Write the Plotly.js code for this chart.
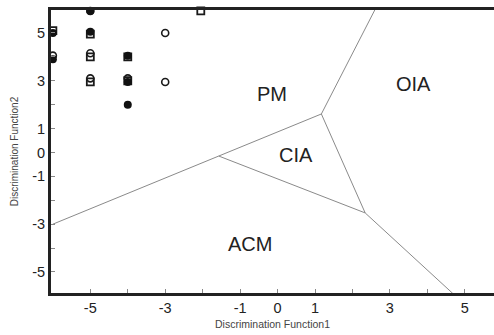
<!DOCTYPE html>
<html>
<head>
<meta charset="utf-8">
<script src="https://cdn.plot.ly/plotly-3.0.1.min.js"></script>
<style>html,body{margin:0;padding:0;background:#fff;overflow:hidden;}#chart{width:494px;height:335px;}</style>
</head>
<body>
<div id="chart"></div>
<script>
// Sample points (discriminant function scores)
const filledX = [-6, -6, -5, -5, -4, -4, -4];
const filledY = [5, 3.9, 5.92, 5.05, 4.05, 2.95, 2.0];
const openCircX = [-6, -5, -5, -5, -4, -3, -3];
const openCircY = [4.05, 5.92, 4.15, 3.1, 3.1, 5.0, 2.95];
const openSqX = [-5, -5, -5, -4, -4, -2.05, -6];
const openSqY = [4.0, 2.95, 4.95, 4.0, 3.0, 5.92, 5.1];

// Boundary segments of the discrimination fields
const boundaries = [
  {x: [-6, -1.57], y: [-3, -0.15]},
  {x: [-1.57, 1.17], y: [-0.15, 1.61]},
  {x: [1.17, 2.61], y: [1.61, 6.0]},
  {x: [1.17, 2.34], y: [1.61, -2.53]},
  {x: [-1.57, 2.34], y: [-0.15, -2.53]},
  {x: [2.34, 4.68], y: [-2.53, -5.9]}
];

// Field labels
const fieldNames = ['PM', 'OIA', 'CIA', 'ACM'];
const fieldX = [-0.16, 3.62, 0.5, -0.74];
const fieldY = [2.45, 2.85, -0.12, -3.85];

// Axis ticks
const tickVals = [-5, -4, -3, -2, -1, 0, 1, 2, 3, 4, 5];
const tickText = ['-5', '', '-3', '', '-1', '0', '1', '', '3', '', '5'];

const traces = [];
boundaries.forEach(b => traces.push({
  x: b.x, y: b.y, mode: 'lines', type: 'scatter',
  line: {color: '#8a8a8a', width: 1}, hoverinfo: 'skip'
}));
traces.push({x: openSqX, y: openSqY, mode: 'markers', type: 'scatter', cliponaxis: false,
  marker: {symbol: 'square-open', size: 7, color: '#1a1a1a', line: {width: 1.8}}});
traces.push({x: openCircX, y: openCircY, mode: 'markers', type: 'scatter', cliponaxis: false,
  marker: {symbol: 'circle-open', size: 7, color: '#1a1a1a', line: {width: 1.6}}});
traces.push({x: filledX, y: filledY, mode: 'markers', type: 'scatter', cliponaxis: false,
  marker: {symbol: 'circle', size: 8, color: '#111'}});

const annotations = fieldNames.map((t, i) => ({
  x: fieldX[i], y: fieldY[i], text: t, showarrow: false,
  font: {family: 'Liberation Sans, Arial, sans-serif', size: 20, color: '#222'}
}));

const layout = {
  width: 494, height: 335, autosize: false,
  margin: {l: 51, r: 0, t: 10, b: 42, pad: 0, autoexpand: false},
  paper_bgcolor: '#fff', plot_bgcolor: '#fff',
  showlegend: false,
  font: {family: 'Liberation Sans, Arial, sans-serif', color: '#222'},
  xaxis: {
    range: [-6.05, 5.78], tickvals: tickVals, ticktext: tickText,
    ticks: 'inside', ticklen: 4, tickcolor: '#888', tickwidth: 1,
    showgrid: false, zeroline: false, automargin: false,
    showline: true, linecolor: '#222', linewidth: 3, mirror: true,
    tickfont: {size: 14.5, color: '#222'},
    title: {text: 'Discrimination Function1', font: {size: 10.5, color: '#444'}, standoff: 6}
  },
  yaxis: {
    range: [-5.88, 5.96], tickvals: tickVals, ticktext: tickText,
    ticks: 'inside', ticklen: 4, tickcolor: '#888', tickwidth: 1,
    showgrid: false, zeroline: false, automargin: false,
    showline: true, linecolor: '#222', linewidth: 3,
    tickfont: {size: 14.5, color: '#222'},
    title: {text: 'Discrimination Function2', font: {size: 10, color: '#444'}, standoff: 12}
  },
  annotations: annotations
};

Plotly.newPlot('chart', traces, layout, {staticPlot: true, displayModeBar: false});
</script>
</body>
</html>
